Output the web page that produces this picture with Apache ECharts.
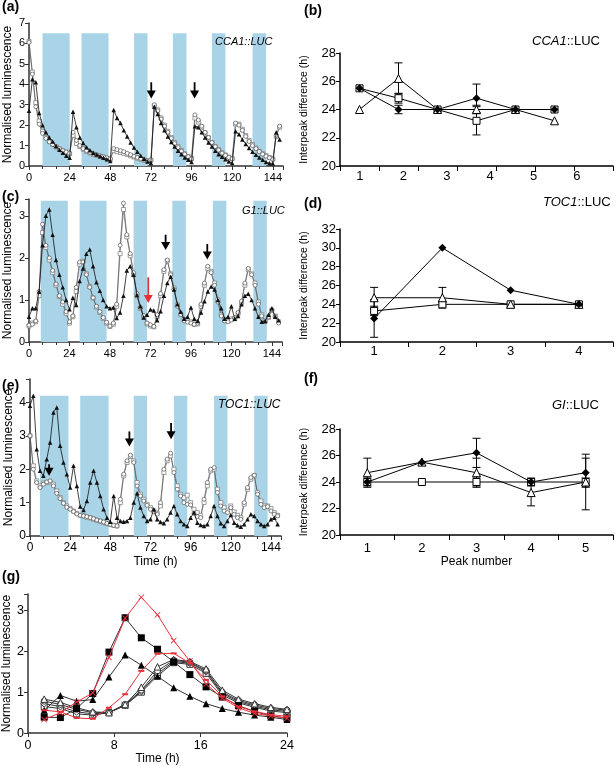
<!DOCTYPE html>
<html><head><meta charset="utf-8">
<script src="https://cdn.jsdelivr.net/npm/echarts/dist/echarts.min.js"></script>
<style>html,body{margin:0;padding:0;background:#fff}#c{width:616px;height:766px}</style>
</head><body><div id="c"></div><script>
// ---------- DATA ----------
const hours = [0,2,4,6,8,10,12,14,16,18,20,22,24,26,28,30,32,34,36,38,40,42,44,46,48,50,52,54,56,58,60,62,64,66,68,70,72,74,76,78,80,82,84,86,88,90,92,94,96,98,100,102,104,106,108,110,112,114,116,118,120,122,124,126,128,130,132,134,136,138,140,142,144,146,148];

// (a) CCA1::LUC
const aTri = [2.7,4.25,4.1,2.6,2.0,1.65,1.4,1.2,0.98,0.8,0.65,0.5,0.4, 2.65,1.9,1.4,1.12,0.92,0.77,0.65,0.56,0.48,0.4,0.33,0.25, 2.74,2.35,2.1,1.75,1.45,1.15,0.9,0.7,0.5,0.35,0.22,0.15, 2.9,2.55,2.1,1.75,1.45,1.18,0.95,0.75,0.58,0.42,0.3,0.2, 1.95,1.9,1.65,1.4,1.15,0.95,0.75,0.58,0.45,0.33,0.22,0.15, 1.7,1.55,1.3,1.08,0.88,0.7,0.55,0.42,0.3,0.2,0.14,0.12, 1.65,1.3];
const aCirc = [6.05,4.5,2.9,2.05,1.6,1.35,1.18,1.05,0.95,0.85,0.75,0.68,0.62, 1.65,1.25,1.0,0.85,0.75,0.67,0.6,0.55,0.5,0.45,0.4,0.35, 0.85,0.8,0.75,0.7,0.62,0.55,0.48,0.42,0.36,0.3,0.25,0.3, 3.0,2.7,2.3,1.95,1.65,1.35,1.1,0.9,0.72,0.58,0.45,0.35, 2.5,2.25,1.95,1.65,1.4,1.15,0.95,0.78,0.63,0.52,0.42,0.35, 2.1,2.0,1.75,1.45,1.2,1.0,0.85,0.7,0.58,0.48,0.4,0.32, 1.5,1.95];
const aSq = [6.1,4.6,3.1,2.2,1.7,1.4,1.2,1.05,0.93,0.82,0.73,0.67,0.6, 1.5,1.1,0.95,0.82,0.72,0.64,0.57,0.52,0.47,0.43,0.38,0.33, 0.75,0.7,0.66,0.62,0.56,0.5,0.44,0.38,0.33,0.28,0.24,0.28, 2.95,2.75,2.35,2.0,1.7,1.4,1.15,0.95,0.76,0.6,0.47,0.37, 2.35,2.15,1.9,1.62,1.38,1.15,0.95,0.8,0.65,0.54,0.44,0.36, 2.05,2.05,1.8,1.5,1.25,1.05,0.88,0.72,0.6,0.5,0.42,0.35, 1.45,1.9];

// (c) G1::LUC
const cTri = [0.6,0.8,0.8,1.2,2.3,3.0,3.15,2.55,1.95,1.6,1.3,1.0,0.78, 1.05,0.88,1.45,1.75,2.1,2.2,1.8,1.42,1.22,1.0,0.85,0.8, 0.82,0.57,0.7,1.1,1.7,1.8,1.6,1.12,0.85,0.58,0.65,0.77, 0.75,0.52,0.73,1.1,1.4,1.55,1.25,0.9,0.72,0.55,0.6,0.82, 0.55,0.5,0.7,0.97,1.2,1.32,1.25,1.0,0.8,0.55,0.6,0.85, 0.55,0.62,0.9,1.1,1.15,1.0,0.8,0.6,0.48,0.5,0.65,0.8, 0.6,0.52];
const cCirc = [0.4,0.42,0.5,1.2,2.8,2.3,2.0,1.7,1.38,1.1,0.95,0.72,0.48, 0.62,1.3,1.9,1.9,1.6,1.3,1.05,0.85,0.72,0.58,0.47,0.38, 0.45,0.9,2.3,3.3,2.55,2.1,1.65,1.15,0.82,0.63,0.45,0.41, 0.37,0.65,1.15,1.72,1.95,1.6,1.25,0.85,0.65,0.5,0.47,0.45, 0.42,0.45,0.9,1.4,1.8,1.65,1.35,0.95,0.62,0.5,0.48,0.52, 0.58,0.7,0.97,1.4,1.75,1.6,1.35,0.9,0.62,0.48,0.6,0.77, 0.6,0.45];
const cSq = [0.38,0.45,0.48,1.1,2.6,2.25,1.95,1.65,1.35,1.08,0.9,0.68,0.45, 0.6,1.2,1.85,1.92,1.62,1.32,1.05,0.83,0.7,0.56,0.45,0.37, 0.42,0.85,2.1,3.15,2.5,2.05,1.6,1.1,0.8,0.6,0.43,0.38, 0.36,0.6,1.1,1.68,1.93,1.62,1.28,0.88,0.66,0.52,0.5,0.48, 0.42,0.43,0.85,1.35,1.75,1.68,1.4,1.0,0.65,0.52,0.5,0.55, 0.55,0.68,0.93,1.35,1.72,1.62,1.4,0.95,0.65,0.5,0.58,0.75, 0.62,0.48];

// (e) TOC1::LUC
const eTri = [3.9,4.2,2.6,1.95,1.8,2.3,2.8,3.7,3.85,2.7,2.2,1.85,1.45, 2.1,1.5,0.88,0.78,1.05,1.6,1.95,1.6,1.2,0.8,0.55,0.43, 1.2,0.55,0.45,0.43,0.45,0.55,1.0,1.28,0.85,0.6,0.45,0.5, 0.8,0.5,0.42,0.38,0.5,0.7,0.9,0.65,0.45,0.35,0.3,0.55, 0.7,0.4,0.33,0.3,0.35,0.6,0.9,0.6,0.38,0.3,0.45,0.63, 0.4,0.32,0.28,0.35,0.5,0.65,0.6,0.45,0.35,0.3,0.35,0.5, 0.55,0.35];
const eCirc = [3.0,2.0,1.6,1.45,1.55,1.62,1.65,1.5,1.28,1.12,0.98,0.86,0.8, 0.73,0.66,0.62,0.6,0.58,0.55,0.52,0.48,0.45,0.42,0.38,0.35, 0.32,0.3,1.1,1.85,2.25,2.42,2.2,1.5,1.2,1.05,0.92,0.8, 0.72,0.65,1.0,2.0,2.3,2.48,1.9,1.4,1.2,1.0,0.95,0.93, 0.68,0.58,0.55,1.1,1.6,2.0,2.05,1.3,0.9,0.75,0.7,0.85, 0.65,0.55,0.5,1.0,1.45,1.75,1.82,1.25,0.95,0.85,0.88,0.75, 0.65,0.6];
const eSq = [3.0,2.1,1.65,1.5,1.58,1.6,1.62,1.55,1.35,1.15,1.0,0.9,0.82, 0.75,0.68,0.62,0.6,0.56,0.54,0.5,0.47,0.44,0.4,0.37,0.34, 0.32,0.3,1.0,1.8,2.2,2.38,2.25,1.6,1.25,1.1,0.95,0.85, 0.75,0.68,0.9,1.9,2.25,2.4,2.0,1.5,1.25,1.15,1.22,1.0, 0.8,0.7,0.62,1.0,1.5,1.95,2.0,1.4,1.0,0.85,0.75,0.9, 0.72,0.62,0.55,0.95,1.4,1.7,1.8,1.3,1.05,0.9,0.9,0.82, 0.7,0.62];

// dark-period shading [start h, end h]
const bandsA = [[8,24],[31,47],[62,70],[85,93],[108,116],[132,140]];
const bandsC = [[7,23],[30,46],[62,70],[85,93],[109,117],[133,141]];
const bandsE = [[6,23],[30,47],[62,70],[86,94],[110,118],[134,142]];
const bandTopA = 6.5, bandTopC = 3.36, bandTopE = 4.2;

// arrows [h, top, tip]
const arrowsA = [[72.2,4.1,3.3],[97.8,4.1,3.3]];
const arrowsC = [[81,2.55,2.19],[105.7,2.33,1.96]];
const arrowsCRed = [[70.7,1.54,0.93]];
const arrowsE = [[11.4,2.15,1.8],[59.4,3.13,2.68],[84.3,3.38,2.9]];

// (b) CCA1::LUC interpeak
const bCats = ['1','2','3','4','5','6','7'];
const bFilled = [25.5,24.0,24.0,24.8,24.0,24.0];
const bFilledErr = [0,0.3,0,1.0,0,0];
const bSq = [25.5,24.8,24.0,23.2,24.0,24.0];
const bSqErr = [0,0.35,0,1.0,0,0];
const bTri = [24.0,26.2,24.0,24.0,24.0,23.2];
const bTriErr = [0,1.1,0,0.3,0,0];
const bLabels = [1,2,3,4,5,6];

// (d) TOC1::LUC interpeak
const dCats = ['1','2','3','4'];
const dFilled = [22.5,30.0,25.5,24.0];
const dFilledErr = [2.0,0,0,0];
const dTri = [24.7,24.7,24.0,24.0];
const dTriErr = [1.1,1.1,0,0];
const dSq = [23.3,24.0,24.0,24.0];
const dSqErr = [0.5,0.2,0,0];

// (f) GI::LUC interpeak
const fCats = ['1','2','3','4','5'];
const fFilled = [24.0,25.5,26.2,24.0,24.7];
const fFilledErr = [0.3,0,1.1,0.3,1.1];
const fTri = [24.7,25.5,24.7,23.2,24.0];
const fTriErr = [1.1,0,1.1,1.0,2.1];
const fSq = [24.0,24.0,24.0,24.0,24.0];
const fSqErr = [0,0,0.3,0,0.3];

// (g)
const gHours = [1.5,3,4.5,6,7.5,9,10.5,12,13.5,15,16.5,18,19.5,21,22.5,24];
const gSqFill = [0.39,0.38,0.6,0.97,1.98,2.82,2.33,2.05,1.74,1.43,1.13,0.88,0.67,0.53,0.42,0.37];
const gTriFill = [0.56,0.92,0.78,0.82,1.37,1.91,1.66,1.39,1.11,0.9,0.72,0.6,0.51,0.44,0.39,0.33];
const gRedX = [0.33,0.5,0.76,0.98,1.85,2.81,3.32,2.89,2.26,1.76,1.2,0.85,0.62,0.48,0.42,0.36];
const gRedDash = [0.56,0.52,0.37,0.35,0.62,0.95,1.52,1.94,1.95,1.71,1.3,0.9,0.65,0.53,0.45,0.41];
const gOpenTri = [0.83,0.75,0.62,0.52,0.5,0.7,1.12,1.62,1.8,1.75,1.57,1.05,0.83,0.72,0.63,0.58];
const gOpenCirc = [0.78,0.7,0.58,0.5,0.5,0.7,1.05,1.52,1.78,1.73,1.53,1.0,0.8,0.69,0.6,0.56];
const gOpenDia = [0.72,0.65,0.52,0.47,0.5,0.68,1.02,1.45,1.75,1.71,1.5,0.97,0.77,0.66,0.57,0.53];
const gOpenSq = [0.65,0.6,0.47,0.44,0.5,0.68,1.0,1.4,1.72,1.68,1.46,0.93,0.74,0.63,0.54,0.5];

// ---------- HELPERS ----------
const F = '"Liberation Sans", Arial, sans-serif';
const BLUE = '#a9d4e7';
const AX = '#333';
const clone = o => JSON.parse(JSON.stringify(o));
const st = {
  triFill: {symbol:'triangle', symbolSize:4.5, itemStyle:{color:'#111'}, lineStyle:{color:'#111', width:0.8}},
  circOpen: {symbol:'circle', symbolSize:4, itemStyle:{color:'#fff', borderColor:'#555', borderWidth:0.7}, lineStyle:{color:'#555', width:0.7}},
  sqOpen: {symbol:'rect', symbolSize:4, itemStyle:{color:'#fff', borderColor:'#777', borderWidth:0.7}, lineStyle:{color:'#777', width:0.7}}
};
function ts(g, xs, vals, style, z) {
  return Object.assign({type:'line', xAxisIndex:g, yAxisIndex:g, data: xs.map((h,i)=>[h, vals[i]]),
    showSymbol:true, showAllSymbol:true, z: z||3, silent:true}, clone(style));
}
function bandSeries(g, bands, top) {
  return {type:'custom', xAxisIndex:g, yAxisIndex:g, z:1, silent:true,
    data: bands.map(b=>[b[0], b[1], top]),
    renderItem: (p, api) => {
      const p0 = api.coord([api.value(0), api.value(2)]);
      const p1 = api.coord([api.value(1), 0]);
      return {type:'rect', shape:{x:p0[0], y:p0[1], width:p1[0]-p0[0], height:p1[1]-p0[1]}, style:{fill:BLUE}};
    }};
}
function arrowSeries(g, arr, color) {
  return {type:'custom', xAxisIndex:g, yAxisIndex:g, z:6, silent:true, data: arr,
    renderItem: (p, api) => {
      const t = api.coord([api.value(0), api.value(1)]);
      const b = api.coord([api.value(0), api.value(2)]);
      const hl = 8, hw = 4.5;
      return {type:'group', children:[
        {type:'line', shape:{x1:t[0], y1:t[1], x2:b[0], y2:b[1]-hl+1}, style:{stroke:color, lineWidth:1.8}},
        {type:'polygon', shape:{points:[[b[0]-hw,b[1]-hl],[b[0]+hw,b[1]-hl],[b[0],b[1]]]}, style:{fill:color}}
      ]};
    }};
}
function errSeries(g, vals, errs) {
  return {type:'custom', xAxisIndex:g, yAxisIndex:g, z:4, silent:true,
    data: vals.map((v,i)=>[i, v, errs[i]]),
    renderItem: (p, api) => {
      const e = api.value(2);
      if (!e) return null;
      const x = api.value(0), v = api.value(1);
      const hi = api.coord([x, v+e]), lo = api.coord([x, v-e]);
      const cw = 4, s = {stroke:'#000', lineWidth:1};
      return {type:'group', children:[
        {type:'line', shape:{x1:hi[0],y1:hi[1],x2:lo[0],y2:lo[1]}, style:s},
        {type:'line', shape:{x1:hi[0]-cw,y1:hi[1],x2:hi[0]+cw,y2:hi[1]}, style:s},
        {type:'line', shape:{x1:lo[0]-cw,y1:lo[1],x2:lo[0]+cw,y2:lo[1]}, style:s}
      ]};
    }};
}
function catLine(g, vals, kind) {
  const base = {type:'line', xAxisIndex:g, yAxisIndex:g, data: vals, silent:true, showSymbol:true,
    lineStyle:{color:'#000', width:1}};
  if (kind==='filled') Object.assign(base, {z:6, symbol:'diamond', symbolSize:8, itemStyle:{color:'#000'}});
  if (kind==='sq') Object.assign(base, {z:5, symbol:'rect', symbolSize:7, itemStyle:{color:'#fff', borderColor:'#000', borderWidth:1}});
  if (kind==='tri') Object.assign(base, {z:5, symbol:'triangle', symbolSize:8, itemStyle:{color:'#fff', borderColor:'#000', borderWidth:1}});
  return base;
}
const axLine = (w, c) => ({show:true, lineStyle:{color:c || '#000', width:w}});
const tick = (l, c) => ({show:true, length:l, lineStyle:{color:c || '#000', width:1}});
const intOnly = v => Number.isInteger(v) ? String(v) : '';

function timeX(g, fs, name, gap) {
  return {type:'value', gridIndex:g, min:0, max:150, interval:24,
    axisLine:axLine(1.5, AX), axisTick:tick(4, AX),
    minorTick:{show:true, splitNumber:3, length:3, lineStyle:{color:AX}},
    splitLine:{show:false},
    axisLabel:{color:'#000', fontSize:fs, fontFamily:F, margin:6, formatter: v => (v % 24 === 0) ? String(v) : ''},
    name: name || '', nameLocation:'middle', nameGap: gap || 20,
    nameTextStyle:{color:'#000', fontSize:12, fontFamily:F}};
}
function lumY(g, max, fs) {
  return {type:'value', gridIndex:g, min:0, max:max, interval:1,
    name:'Normalised luminescence', nameLocation:'middle', nameGap:15,
    nameTextStyle:{color:'#000', fontSize:12, fontFamily:F},
    axisLine:axLine(1.5, AX), axisTick:tick(4, AX), splitLine:{show:false},
    axisLabel:{color:'#000', fontSize:fs, fontFamily:F, margin:4, formatter:intOnly}};
}
function peakY(g, min, max) {
  return {type:'value', gridIndex:g, min:min, max:max, interval:2,
    name:'Interpeak difference (h)', nameLocation:'middle', nameGap:30,
    nameTextStyle:{color:'#000', fontSize:10.5, fontFamily:F},
    axisLine:axLine(1.5), axisTick:tick(4), splitLine:{show:false},
    axisLabel:{color:'#000', fontSize:13, fontFamily:F, margin:4}};
}
function catX(g, cats, showLabel, name, margin) {
  return {type:'category', gridIndex:g, data:cats, boundaryGap:true,
    axisLine:axLine(1.5), axisTick:Object.assign(tick(5), {alignWithLabel:false}),
    splitLine:{show:false},
    axisLabel:{show:showLabel, color:'#000', fontSize:13, fontFamily:F, margin: margin || 4},
    name: name || '', nameLocation:'middle', nameGap:12,
    nameTextStyle:{color:'#000', fontSize:12, fontFamily:F}};
}
function label(txt, left, top) {
  return {text:txt, left:left, top:top, padding:0, textStyle:{fontSize:14, fontWeight:'bold', fontFamily:F, color:'#000'}};
}
function gene(rich, left, top, fs) {
  return {text:rich, left:left, top:top, padding:0,
    textStyle:{fontSize:fs, fontWeight:'normal', fontFamily:F, color:'#000',
      rich:{i:{fontStyle:'italic', fontWeight:'normal', fontSize:fs, fontFamily:F, color:'#000'},
            n:{fontWeight:'normal', fontSize:fs, fontFamily:F, color:'#000'}}}};
}

// ---------- OPTION ----------
const option = {
  animation:false,
  backgroundColor:'#fff',
  title:[
    label('(a)', 2, 0), label('(b)', 304, 4), label('(c)', 2, 190), label('(d)', 304, 197),
    label('(e)', 2, 379), label('(f)', 304, 372), label('(g)', 2, 570),
    gene('{i|CCA1::LUC}', 215, 36, 11), gene('{i|G1::LUC}', 242, 205, 11), gene('{i|TOC1::LUC}', 218, 399, 12),
    gene('{i|CCA1}{n|::LUC}', 532, 35, 13), gene('{i|TOC1}{n|::LUC}', 543, 196, 13), gene('{i|GI}{n|::LUC}', 552, 399, 13)
  ],
  grid:[
    {left:29, top:23, width:254, height:143},
    {left:340, top:53, width:274, height:113},
    {left:29, top:199, width:253, height:143},
    {left:340, top:229, width:273, height:113},
    {left:30, top:379, width:251, height:157},
    {left:340, top:429, width:273, height:106},
    {left:28, top:594, width:259, height:147}
  ],
  xAxis:[
    timeX(0, 11),
    catX(1, bCats, false),
    timeX(2, 11),
    catX(3, dCats, true, '', 3),
    timeX(4, 12, 'Time (h)', 20),
    catX(5, fCats, true, 'Peak number', 7),
    {type:'value', gridIndex:6, min:0, max:24, interval:8,
      axisLine:axLine(1.5, AX), axisTick:tick(4, AX), splitLine:{show:false},
      axisLabel:{color:'#000', fontSize:12.5, fontFamily:F, margin:6},
      name:'Time (h)', nameLocation:'middle', nameGap:11, nameTextStyle:{color:'#000', fontSize:12, fontFamily:F}},
    {type:'value', gridIndex:1, position:'bottom', min:0.54, max:6.83, splitNumber:6,
      axisLine:{show:false}, axisTick:{show:false}, splitLine:{show:false},
      axisLabel:{color:'#000', fontSize:13, fontFamily:F, margin:4, formatter: v => bLabels.indexOf(v) >= 0 ? String(v) : ''}}
  ],
  yAxis:[
    lumY(0, 7, 11),
    peakY(1, 20, 28),
    lumY(2, 3.4, 11),
    peakY(3, 20, 32),
    lumY(4, 4.7, 12),
    peakY(5, 20, 28),
    lumY(6, 3.4, 12.5)
  ],
  series:[
    // (a)
    bandSeries(0, bandsA, bandTopA),
    ts(0, hours, aSq, st.sqOpen, 3), ts(0, hours, aCirc, st.circOpen, 3), ts(0, hours, aTri, st.triFill, 4),
    arrowSeries(0, arrowsA, '#000'),
    // (c)
    bandSeries(2, bandsC, bandTopC),
    ts(2, hours, cSq, st.sqOpen, 3), ts(2, hours, cCirc, st.circOpen, 3), ts(2, hours, cTri, st.triFill, 4),
    arrowSeries(2, arrowsC, '#000'), arrowSeries(2, arrowsCRed, '#e8303a'),
    // (e)
    bandSeries(4, bandsE, bandTopE),
    ts(4, hours, eSq, st.sqOpen, 3), ts(4, hours, eCirc, st.circOpen, 3), ts(4, hours, eTri, st.triFill, 4),
    arrowSeries(4, arrowsE, '#000'),
    // (b)
    catLine(1, bSq, 'sq'), catLine(1, bTri, 'tri'), catLine(1, bFilled, 'filled'),
    errSeries(1, bFilled, bFilledErr), errSeries(1, bSq, bSqErr), errSeries(1, bTri, bTriErr),
    // (d)
    catLine(3, dSq, 'sq'), catLine(3, dTri, 'tri'), catLine(3, dFilled, 'filled'),
    errSeries(3, dFilled, dFilledErr), errSeries(3, dSq, dSqErr), errSeries(3, dTri, dTriErr),
    // (f)
    catLine(5, fSq, 'sq'), catLine(5, fTri, 'tri'), catLine(5, fFilled, 'filled'),
    errSeries(5, fFilled, fFilledErr), errSeries(5, fSq, fSqErr), errSeries(5, fTri, fTriErr),
    // (g)
    ts(6, gHours, gOpenSq, {symbol:'rect', symbolSize:6, itemStyle:{color:'#fff', borderColor:'#333', borderWidth:1}, lineStyle:{color:'#333', width:1}}, 3),
    ts(6, gHours, gOpenDia, {symbol:'diamond', symbolSize:7, itemStyle:{color:'#fff', borderColor:'#333', borderWidth:1}, lineStyle:{color:'#333', width:1}}, 3),
    ts(6, gHours, gOpenCirc, {symbol:'circle', symbolSize:6, itemStyle:{color:'#fff', borderColor:'#333', borderWidth:1}, lineStyle:{color:'#333', width:1}}, 3),
    ts(6, gHours, gOpenTri, {symbol:'triangle', symbolSize:6.5, itemStyle:{color:'#fff', borderColor:'#333', borderWidth:1}, lineStyle:{color:'#333', width:1}}, 3),
    ts(6, gHours, gTriFill, {symbol:'triangle', symbolSize:7, itemStyle:{color:'#000'}, lineStyle:{color:'#333', width:1}}, 4),
    ts(6, gHours, gSqFill, {symbol:'rect', symbolSize:7, itemStyle:{color:'#000'}, lineStyle:{color:'#333', width:1}}, 4),
    ts(6, gHours, gRedDash, {symbol:'rect', symbolSize:[6,2], itemStyle:{color:'#e8303a'}, lineStyle:{color:'#e8303a', width:1}}, 5),
    ts(6, gHours, gRedX, {symbol:'path://M1,0L5,4L9,0L10,1L6,5L10,9L9,10L5,6L1,10L0,9L4,5L0,1Z', symbolSize:6, itemStyle:{color:'#e8303a'}, lineStyle:{color:'#e8303a', width:1}}, 5)
  ]
};
const chart = echarts.init(document.getElementById('c'), null, {renderer:'canvas'});
chart.setOption(option);
</script></body></html>
